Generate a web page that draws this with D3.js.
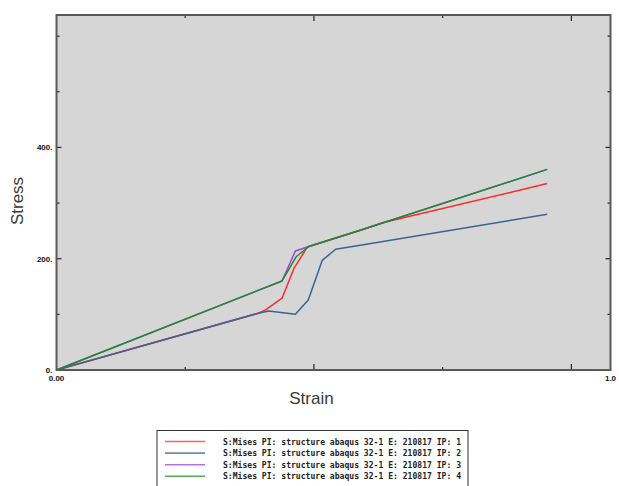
<!DOCTYPE html>
<html>
<head>
<meta charset="utf-8">
<script src="https://cdn.jsdelivr.net/npm/d3@7"></script>
<style>
  html, body { margin: 0; padding: 0; background: #ffffff; }
  svg { display: block; }
</style>
</head>
<body>
<svg id="chart" width="619" height="486"></svg>
<script>
// Stress-strain curves (von Mises stress vs strain) for four integration points
const seriesNames = [
  "S:Mises PI: structure abaqus 32-1 E: 210817 IP: 1",
  "S:Mises PI: structure abaqus 32-1 E: 210817 IP: 2",
  "S:Mises PI: structure abaqus 32-1 E: 210817 IP: 3",
  "S:Mises PI: structure abaqus 32-1 E: 210817 IP: 4"
];
const seriesColors = ["#ff2a2a", "#3c6390", "#9a44d8", "#1f8a2a"];

const strainIP1 = [0, 0.392, 0.406, 0.438, 0.461, 0.487, 0.590, 0.635, 0.953];
const stressIP1 = [0, 102, 108, 129, 182, 221, 251, 265, 335];

const strainIP2 = [0, 0.392, 0.412, 0.464, 0.489, 0.516, 0.542, 0.590, 0.953];
const stressIP2 = [0, 102, 106, 100, 126, 197, 217, 224, 280];

const strainIP3 = [0, 0.438, 0.464, 0.490, 0.590, 0.953];
const stressIP3 = [0, 160, 214, 222, 251, 360.5];

const strainIP4 = [0, 0.438, 0.466, 0.490, 0.590, 0.953];
const stressIP4 = [0, 160, 204, 222, 251, 360.5];

const xMax = 1.076;
const yMax = 638;
const xTicks = [0.25, 0.5, 0.75, 1.0];
const xMajor = [0.5, 1.0];
const yTicks = [100, 200, 300, 400, 500, 600];
const yMajor = [200, 400];
const yLabels = [0, 200, 400];

const strains = [strainIP1, strainIP2, strainIP3, strainIP4];
const stresses = [stressIP1, stressIP2, stressIP3, stressIP4];

const svg = d3.select("#chart");
const plot = { left: 56.5, right: 610.5, top: 15, bottom: 370 };

const x = d3.scaleLinear().domain([0, xMax]).range([plot.left, plot.right]);
const y = d3.scaleLinear().domain([0, yMax]).range([plot.bottom, plot.top]);

// plot area background
svg.append("rect")
  .attr("x", plot.left).attr("y", plot.top)
  .attr("width", plot.right - plot.left).attr("height", plot.bottom - plot.top)
  .attr("fill", "#d6d6d6");

// inward tick marks on all four sides
const g = svg.append("g");
xTicks.forEach(t => {
  const len = xMajor.includes(t) ? 6 : 3;
  g.append("line").attr("x1", x(t)).attr("x2", x(t))
    .attr("y1", plot.bottom).attr("y2", plot.bottom - len)
    .attr("stroke", "#222").attr("stroke-width", 1.2);
  g.append("line").attr("x1", x(t)).attr("x2", x(t))
    .attr("y1", plot.top).attr("y2", plot.top + len)
    .attr("stroke", "#222").attr("stroke-width", 1.2);
});
yTicks.forEach(t => {
  const len = yMajor.includes(t) ? 5 : 3;
  g.append("line").attr("y1", y(t)).attr("y2", y(t))
    .attr("x1", plot.left).attr("x2", plot.left + len)
    .attr("stroke", "#222").attr("stroke-width", 1.2);
  g.append("line").attr("y1", y(t)).attr("y2", y(t))
    .attr("x1", plot.right).attr("x2", plot.right - len)
    .attr("stroke", "#222").attr("stroke-width", 1.2);
});

// curves
const line = d3.line().x(d => x(d[0])).y(d => y(d[1]));
strains.forEach((xs, i) => {
  const pts = xs.map((v, j) => [v, stresses[i][j]]);
  svg.append("path")
    .attr("d", line(pts))
    .attr("fill", "none")
    .attr("stroke", seriesColors[i])
    .attr("stroke-width", 1.5)
    .attr("stroke-linejoin", "round");
});

// frame
svg.append("rect")
  .attr("x", plot.left).attr("y", plot.top)
  .attr("width", plot.right - plot.left).attr("height", plot.bottom - plot.top)
  .attr("fill", "none").attr("stroke", "#5a5a5a").attr("stroke-width", 2);

// tick labels
const tickFont = "Liberation Sans, Arial, sans-serif";
yLabels.forEach(t => {
  svg.append("text")
    .attr("x", plot.left - 4).attr("y", y(t) + 3)
    .attr("text-anchor", "end")
    .attr("font-family", tickFont).attr("font-size", 8).attr("font-weight", "bold")
    .attr("fill", "#111")
    .text(d3.format("d")(t) + ".");
});
svg.append("text")
  .attr("x", x(0)).attr("y", plot.bottom + 11)
  .attr("text-anchor", "middle")
  .attr("font-family", tickFont).attr("font-size", 8).attr("font-weight", "bold")
  .attr("fill", "#111").text("0.00");
svg.append("text")
  .attr("x", plot.right).attr("y", plot.bottom + 11)
  .attr("text-anchor", "middle")
  .attr("font-family", tickFont).attr("font-size", 8).attr("font-weight", "bold")
  .attr("fill", "#111").text("1.0");

// axis titles
svg.append("text")
  .attr("x", (plot.left + plot.right) / 2 - 22).attr("y", 404)
  .attr("text-anchor", "middle")
  .attr("font-family", "Liberation Sans, Arial, sans-serif").attr("font-size", 17)
  .attr("fill", "#3a3a3a").text("Strain");
svg.append("text")
  .attr("transform", "translate(23,201) rotate(-90)")
  .attr("text-anchor", "middle")
  .attr("font-family", "Liberation Sans, Arial, sans-serif").attr("font-size", 17)
  .attr("fill", "#3a3a3a").text("Stress");

// legend
const leg = svg.append("g");
leg.append("rect")
  .attr("x", 157).attr("y", 430.5).attr("width", 311).attr("height", 70)
  .attr("fill", "#ffffff").attr("stroke", "#333").attr("stroke-width", 1);
seriesNames.forEach((name, i) => {
  const yy = 441.5 + i * 11.6;
  leg.append("line")
    .attr("x1", 165).attr("x2", 205).attr("y1", yy).attr("y2", yy)
    .attr("stroke", seriesColors[i]).attr("stroke-width", 1.6).attr("opacity", 0.75);
  leg.append("text")
    .attr("x", 223).attr("y", yy + 3)
    .attr("font-family", "DejaVu Sans Mono, monospace").attr("font-size", 8)
    .attr("font-weight", "bold").attr("fill", "#222")
    .attr("textLength", 238).attr("lengthAdjust", "spacingAndGlyphs")
    .text(name);
});
</script>
</body>
</html>
